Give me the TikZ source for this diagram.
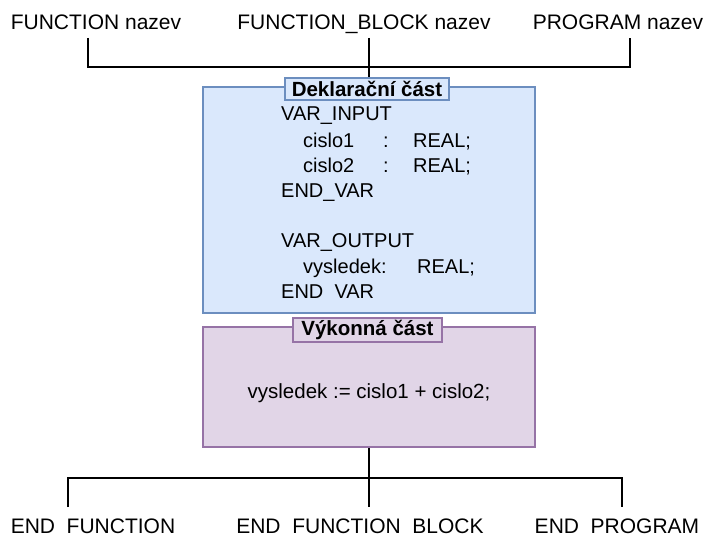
\documentclass[tikz,border=0pt]{standalone}
\usepackage{fontspec}
\setmainfont{Liberation Sans}
\definecolor{declF}{HTML}{DAE8FC}
\definecolor{declS}{HTML}{6C8EBF}
\definecolor{execF}{HTML}{E1D5E7}
\definecolor{execS}{HTML}{9673A6}
\begin{document}
\begin{tikzpicture}[x=1pt,y=-1pt,
  lbl/.style={font=\fontsize{21}{25}\selectfont, inner sep=0pt, anchor=base},
  code/.style={font=\fontsize{20}{24}\selectfont, anchor=base west, inner sep=0pt},
  conn/.style={line width=2pt, black},
  decl/.style={draw=declS, fill=declF, line width=1.5pt, inner sep=0pt},
  exec/.style={draw=execS, fill=execF, line width=1.5pt, inner sep=0pt},
  title/.style={font=\fontsize{20.5}{24}\selectfont\bfseries}]
\useasboundingbox (0,0) rectangle (707,537);

% top labels
\node[lbl] (f1) at (96,30) {FUNCTION nazev};
\node[lbl] (f2) at (364,30) {FUNCTION\_BLOCK nazev};
\node[lbl] (f3) at (618,30) {PROGRAM nazev};

% declaration block
\node[decl, minimum width=332, minimum height=226] (decl) at (369,200) {};
\node[decl, title, minimum width=164, minimum height=22] (declL) at (367,89) {Deklarační část};

\node[code] (c1) at (281,121) {VAR\_INPUT};
\node[code] (c2) at (303,148) {\makebox[80pt][l]{cislo1}\makebox[30pt][l]{:}REAL;};
\node[code] (c3) at (303,173) {\makebox[80pt][l]{cislo2}\makebox[30pt][l]{:}REAL;};
\node[code] (c4) at (281,198) {END\_VAR};
\node[code] (c5) at (281,248) {VAR\_OUTPUT};
\node[code] (c6) at (303,274) {\makebox[114pt][l]{vysledek:}REAL;};
\node[code] (c7) at (281,299) {END\hspace{0.556em}VAR};

% execution block
\node[exec, minimum width=332, minimum height=120] (exec) at (369,387) {};
\node[exec, title, minimum width=149, minimum height=24] (execL) at (367.5,330) {Výkonná část};
\node[lbl, font=\fontsize{20.5}{24}\selectfont] (stmt) at (369,399) {vysledek := cislo1 + cislo2;};

% bottom labels
\node[lbl] (e1) at (93,533) {END\hspace{0.556em}FUNCTION};
\node[lbl] (e2) at (360,533) {END\hspace{0.556em}FUNCTION\hspace{0.556em}BLOCK};
\node[lbl] (e3) at (617,533) {END\hspace{0.556em}PROGRAM};

% top connectors
\coordinate (t1) at (88,38);
\coordinate (t2) at (369,38);
\coordinate (t3) at (630,38);
\coordinate (h1) at (88,67);
\coordinate (h3) at (630,67);
\draw[conn] (t1) -- (h1) -- (h3) -- (t3);
\draw[conn] (t2) -- (declL.north -| t2);

% bottom connectors
\coordinate (bj) at (369,478);
\coordinate (b1) at (68,507);
\coordinate (b2) at (369,507);
\coordinate (b3) at (622,507);
\coordinate (bh1) at (68,478);
\coordinate (bh3) at (622,478);
\draw[conn] (exec.south -| bj) -- (b2);
\draw[conn] (b1) -- (bh1) -- (bh3) -- (b3);
\end{tikzpicture}
\end{document}
